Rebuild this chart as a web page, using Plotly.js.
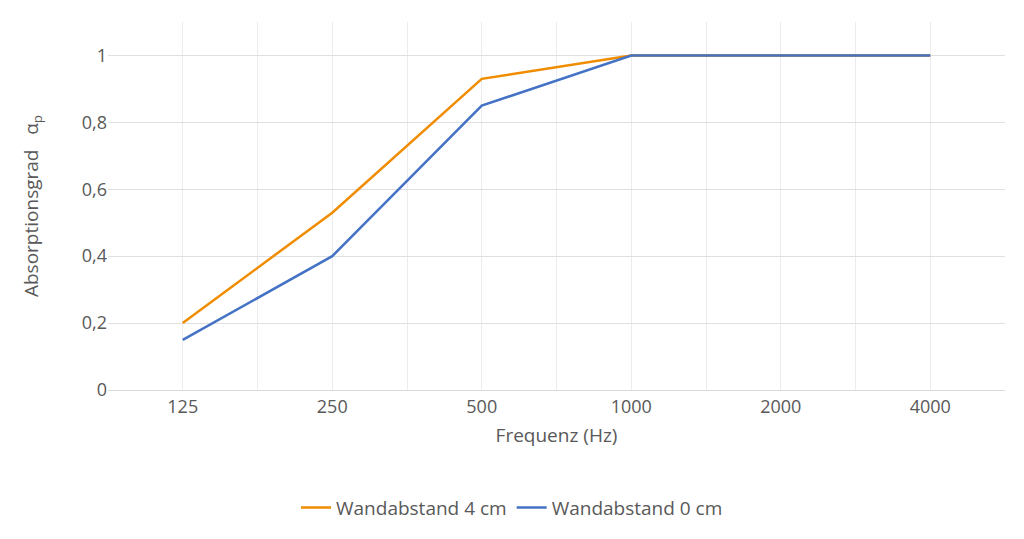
<!DOCTYPE html>
<html>
<head>
<meta charset="utf-8">
<script src="https://cdn.plot.ly/plotly-3.0.1.min.js"></script>
<style>html,body{margin:0;padding:0;background:#fff}#chart{width:1024px;height:539px}</style>
</head>
<body>
<div id="chart"></div>
<script>
const categories = ['125', '250', '500', '1000', '2000', '4000'];
const wand4 = [0.2, 0.53, 0.93, 1, 1, 1];
const wand0 = [0.15, 0.4, 0.85, 1, 1, 1];

const idx = categories.map((c, i) => i);

const traces = [
    { type: 'scatter', mode: 'lines', name: 'Wandabstand 4 cm', x: idx, y: wand4, line: { color: '#F08C00', width: 2.5 } },
    { type: 'scatter', mode: 'lines', name: 'Wandabstand 0 cm', x: idx, y: wand0, line: { color: '#4472C4', width: 2.5 } }
];

const layout = {
    width: 1024, height: 539,
    margin: { l: 108, r: 19, t: 22, b: 149 },
    separators: ',.',
    font: { family: 'Open Sans, Calibri, sans-serif', size: 18, color: '#595959' },
    showlegend: true,
    legend: { orientation: 'h', xref: 'container', x: 0.5, xanchor: 'center', yref: 'container', y: 0.058, yanchor: 'middle', font: { size: 19 } },
    xaxis: {
        range: [-0.5, 5.5], tickvals: idx, ticktext: categories, showgrid: true, gridcolor: '#ECECEC',
        minor: { dtick: 0.5, showgrid: true, gridcolor: '#ECECEC' },
        zeroline: false, showline: true, linecolor: '#D9D9D9', ticks: '',
        title: { text: 'Frequenz (Hz)', font: { size: 19 }, standoff: 12 }
    },
    yaxis: {
        range: [0, 1.1], tickvals: [0, 0.2, 0.4, 0.6, 0.8, 1], ticktext: ['0', '0,2', '0,4', '0,6', '0,8', '1'],
        gridcolor: '#E0E0E0', zeroline: false, ticks: '', ticklen: 0,
        title: { text: 'Absorptionsgrad   α<sub>p</sub>', font: { size: 19 }, standoff: 38 }
    },
    plot_bgcolor: '#fff', paper_bgcolor: '#fff'
};

Plotly.newPlot('chart', traces, layout, { displayModeBar: false });
</script>
</body>
</html>
